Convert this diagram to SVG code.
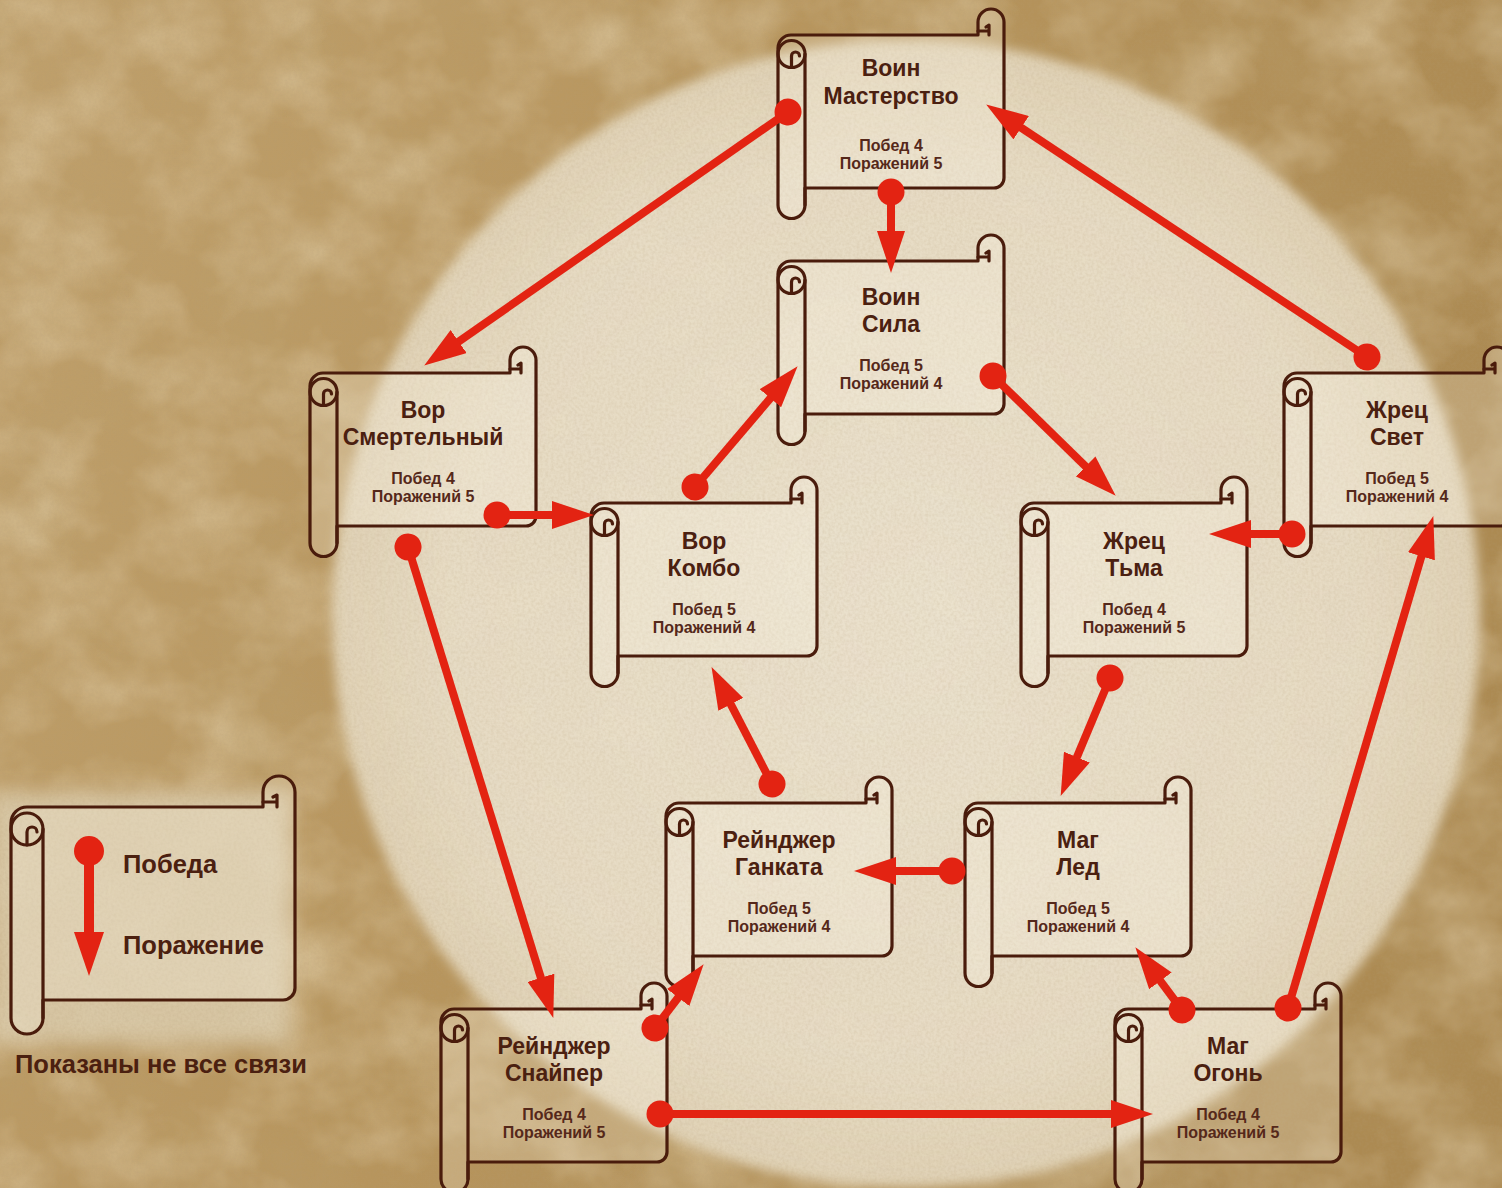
<svg xmlns="http://www.w3.org/2000/svg" xmlns:xlink="http://www.w3.org/1999/xlink" width="1502" height="1188" viewBox="0 0 1502 1188">
<style>
.sc{fill:rgba(255,250,236,0.22);stroke:#4a1c0c;stroke-width:3.2;stroke-linejoin:round;stroke-linecap:round}
.ln{fill:none;stroke:#4a1c0c;stroke-width:3.2;stroke-linecap:round;stroke-linejoin:round}
.t1{font-family:"Liberation Sans",Arial,sans-serif;font-weight:bold;font-size:23px;fill:#4b2010;text-anchor:middle}
.t2{font-family:"Liberation Sans",Arial,sans-serif;font-weight:bold;font-size:16px;fill:#55281a;text-anchor:middle}
.lg{font-family:"Liberation Sans",Arial,sans-serif;font-weight:bold;font-size:25.5px;fill:#4b2010}
.cn{fill:none;stroke:#e32312;stroke-width:8;marker-start:url(#dot);marker-end:url(#arr)}
</style>
<defs>
<filter id="lightMottle" filterUnits="userSpaceOnUse" x="0" y="0" width="1502" height="1188">
<feTurbulence type="fractalNoise" baseFrequency="0.012 0.014" numOctaves="4" seed="7"/>
<feColorMatrix type="matrix" values="0 0 0 0 0.84  0 0 0 0 0.72  0 0 0 0 0.5  1.6 0 0 0 -0.6"/>
</filter>
<filter id="darkMottle" filterUnits="userSpaceOnUse" x="0" y="0" width="1502" height="1188">
<feTurbulence type="fractalNoise" baseFrequency="0.01 0.009" numOctaves="4" seed="21"/>
<feColorMatrix type="matrix" values="0 0 0 0 0.5  0 0 0 0 0.36  0 0 0 0 0.16  1.6 0 0 0 -0.7"/>
</filter>
<filter id="grain" filterUnits="userSpaceOnUse" x="0" y="0" width="1502" height="1188">
<feTurbulence type="fractalNoise" baseFrequency="0.35" numOctaves="2" seed="3"/>
<feColorMatrix type="matrix" values="0 0 0 0 0.45  0 0 0 0 0.33  0 0 0 0 0.18  0.9 0 0 0 -0.3"/>
</filter>
<filter id="soft" x="-10%" y="-10%" width="120%" height="120%"><feGaussianBlur stdDeviation="6"/></filter>
<filter id="softer" x="-20%" y="-20%" width="140%" height="140%"><feGaussianBlur stdDeviation="10"/></filter>
<linearGradient id="bgGrad" x1="0" y1="0" x2="1" y2="0.3">
<stop offset="0" stop-color="#bfa06c"/>
<stop offset="0.5" stop-color="#b7955d"/>
<stop offset="1" stop-color="#ac8a52"/>
</linearGradient>
<radialGradient id="glow" cx="0.5" cy="0.5" r="0.5">
<stop offset="0" stop-color="#ede5d3"/>
<stop offset="0.8" stop-color="#e9dfc9"/>
<stop offset="1" stop-color="#e2d5ba"/>
</radialGradient>
<marker id="arr" markerUnits="userSpaceOnUse" viewBox="-2 0 44 28" markerWidth="44" markerHeight="28" refX="0" refY="14" orient="auto">
<path d="M-2,0 L40,14 L-2,28 Z" fill="#e32312"/>
</marker>
<marker id="dot" markerUnits="userSpaceOnUse" viewBox="0 0 28 28" markerWidth="28" markerHeight="28" refX="14" refY="14" orient="auto">
<circle cx="14" cy="14" r="13.5" fill="#e32312"/>
</marker>
<g id="scroll">
<path class="sc" d="M27,179 H216 A10,10 0 0 0 226,169 V13 A13,13 0 0 0 200,13 V26 H13 A13,13 0 0 0 0,39 V196 A13.5,13.5 0 0 0 27,196 Z"/>
<circle class="ln" cx="13.5" cy="45" r="13.5"/>
<path class="ln" d="M27,45 V196 M13.5,58.5 V47 A4,4 0 0 1 21.5,47 M200,22 H211 V26 M211,22 V16 L208,18"/>
</g>
</defs>

<g id="background">
<rect width="1502" height="1188" fill="url(#bgGrad)"/>
<rect width="1502" height="1188" fill="#000" filter="url(#darkMottle)" opacity="0.4"/>
<rect width="1502" height="1188" fill="#000" filter="url(#lightMottle)" opacity="0.55"/>
<rect x="-10" y="792" width="300" height="252" fill="#dccdae" opacity="0.85" filter="url(#softer)"/>
<circle cx="906" cy="614" r="574" fill="url(#glow)" filter="url(#soft)" opacity="0.95"/>
<rect width="1502" height="1188" fill="#000" filter="url(#grain)" opacity="0.35"/>
</g>

<g id="n-voin-masterstvo">
<use xlink:href="#scroll" href="#scroll" transform="translate(778,9)"/>
<text class="t1" x="891" y="76">Воин</text>
<text class="t1" x="891" y="104">Мастерство</text>
<text class="t2" x="891" y="150.5">Побед 4</text>
<text class="t2" x="891" y="168.5">Поражений 5</text>
</g>
<g id="n-voin-sila">
<use xlink:href="#scroll" href="#scroll" transform="translate(778,235)"/>
<text class="t1" x="891" y="305">Воин</text>
<text class="t1" x="891" y="332">Сила</text>
<text class="t2" x="891" y="370.5">Побед 5</text>
<text class="t2" x="891" y="388.5">Поражений 4</text>
</g>
<g id="n-vor-smertelny">
<use xlink:href="#scroll" href="#scroll" transform="translate(310,347)"/>
<text class="t1" x="423" y="418">Вор</text>
<text class="t1" x="423" y="445">Смертельный</text>
<text class="t2" x="423" y="483.5">Побед 4</text>
<text class="t2" x="423" y="501.5">Поражений 5</text>
</g>
<g id="n-zhrec-svet">
<use xlink:href="#scroll" href="#scroll" transform="translate(1284,347)"/>
<text class="t1" x="1397" y="418">Жрец</text>
<text class="t1" x="1397" y="445">Свет</text>
<text class="t2" x="1397" y="483.5">Побед 5</text>
<text class="t2" x="1397" y="501.5">Поражений 4</text>
</g>
<g id="n-vor-kombo">
<use xlink:href="#scroll" href="#scroll" transform="translate(591,477)"/>
<text class="t1" x="704" y="549">Вор</text>
<text class="t1" x="704" y="576">Комбо</text>
<text class="t2" x="704" y="614.5">Побед 5</text>
<text class="t2" x="704" y="632.5">Поражений 4</text>
</g>
<g id="n-zhrec-tma">
<use xlink:href="#scroll" href="#scroll" transform="translate(1021,477)"/>
<text class="t1" x="1134" y="549">Жрец</text>
<text class="t1" x="1134" y="576">Тьма</text>
<text class="t2" x="1134" y="614.5">Побед 4</text>
<text class="t2" x="1134" y="632.5">Поражений 5</text>
</g>
<g id="n-ranger-gankata">
<use xlink:href="#scroll" href="#scroll" transform="translate(666,777)"/>
<text class="t1" x="779" y="848">Рейнджер</text>
<text class="t1" x="779" y="875">Ганката</text>
<text class="t2" x="779" y="913.5">Побед 5</text>
<text class="t2" x="779" y="931.5">Поражений 4</text>
</g>
<g id="n-mag-led">
<use xlink:href="#scroll" href="#scroll" transform="translate(965,777)"/>
<text class="t1" x="1078" y="848">Маг</text>
<text class="t1" x="1078" y="875">Лед</text>
<text class="t2" x="1078" y="913.5">Побед 5</text>
<text class="t2" x="1078" y="931.5">Поражений 4</text>
</g>
<g id="n-ranger-snaiper">
<use xlink:href="#scroll" href="#scroll" transform="translate(441,983)"/>
<text class="t1" x="554" y="1054">Рейнджер</text>
<text class="t1" x="554" y="1081">Снайпер</text>
<text class="t2" x="554" y="1119.5">Побед 4</text>
<text class="t2" x="554" y="1137.5">Поражений 5</text>
</g>
<g id="n-mag-ogon">
<use xlink:href="#scroll" href="#scroll" transform="translate(1115,983)"/>
<text class="t1" x="1228" y="1054">Маг</text>
<text class="t1" x="1228" y="1081">Огонь</text>
<text class="t2" x="1228" y="1119.5">Побед 4</text>
<text class="t2" x="1228" y="1137.5">Поражений 5</text>
</g>

<g id="legend">
<g transform="translate(11,775)">
<path class="sc" d="M32,225 H272 A12,12 0 0 0 284,213 V17 A16,16 0 0 0 252,17 V32 H16 A16,16 0 0 0 0,48 V243 A16,16 0 0 0 32,243 Z"/>
<circle class="ln" cx="16" cy="54" r="16"/>
<path class="ln" d="M32,54 V243 M16,70 V57 A5,5 0 0 1 26,57 M252,27 H266 V32 M266,27 V20 L262,22"/>
</g>
<circle cx="89" cy="851" r="15" fill="#e32312"/>
<line x1="89" y1="851" x2="89" y2="934" stroke="#e32312" stroke-width="10"/>
<path d="M74,932 L104,932 L89,976 Z" fill="#e32312"/>
<text class="lg" x="123" y="873">Победа</text>
<text class="lg" x="123" y="954">Поражение</text>
<text class="lg" x="15" y="1073">Показаны не все связи</text>
</g>

<g id="connectors">
<line class="cn" x1="788" y1="112" x2="457" y2="342.7"/>
<line class="cn" x1="891" y1="192" x2="891" y2="233"/>
<line class="cn" x1="1367" y1="357" x2="1019.5" y2="126.6"/>
<line class="cn" x1="993" y1="376" x2="1087.1" y2="467.8"/>
<line class="cn" x1="695" y1="487" x2="771.7" y2="396.7"/>
<line class="cn" x1="497" y1="515" x2="554" y2="515"/>
<line class="cn" x1="1292" y1="534" x2="1249" y2="534"/>
<line class="cn" x1="1110" y1="678" x2="1076.1" y2="759"/>
<line class="cn" x1="772" y1="784" x2="729.9" y2="702.6"/>
<line class="cn" x1="952" y1="871" x2="894" y2="871"/>
<line class="cn" x1="408" y1="547" x2="541.5" y2="979.7"/>
<line class="cn" x1="655" y1="1028" x2="679.4" y2="996"/>
<line class="cn" x1="660" y1="1114" x2="1113" y2="1114"/>
<line class="cn" x1="1182" y1="1010" x2="1159.2" y2="979.3"/>
<line class="cn" x1="1288" y1="1008" x2="1422" y2="554.4"/>
</g>
</svg>
